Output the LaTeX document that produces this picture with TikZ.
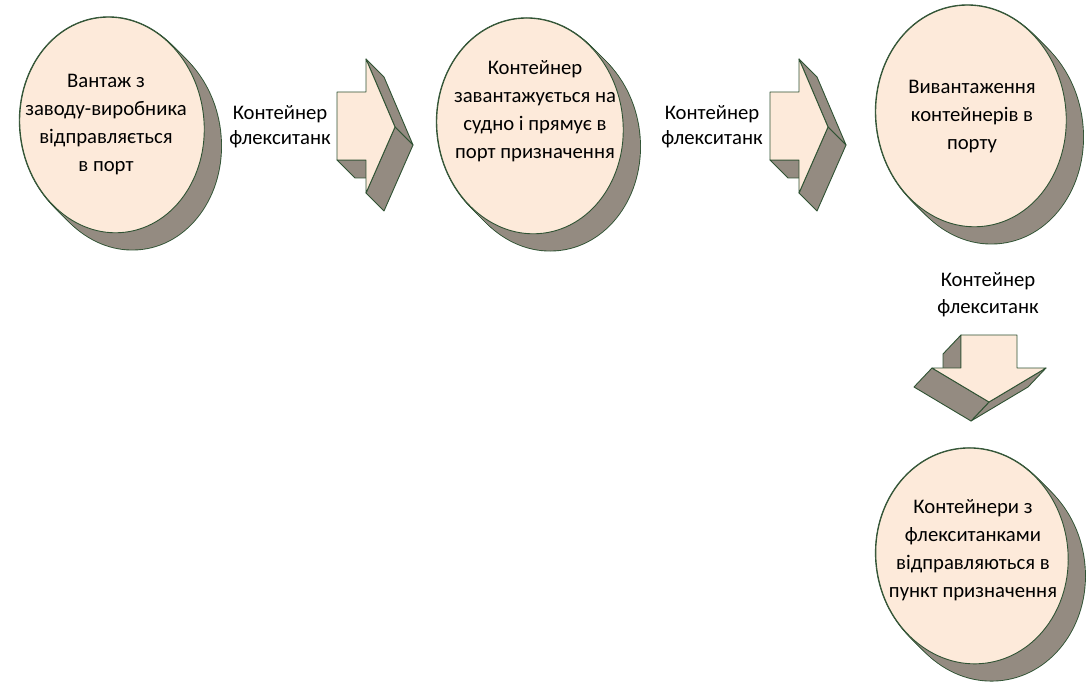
\documentclass[tikz,border=0pt]{standalone}
\usepackage{fontspec}
\setmainfont{Carlito}
\definecolor{discfill}{RGB}{253,234,218}
\definecolor{discshade}{RGB}{148,139,129}
\definecolor{rimgreen}{RGB}{47,82,51}

% disc with its extruded shadow: centre x, centre y, x radius, y radius
\newcommand{\stagedisc}[4]{%
  \foreach \k in {0,...,12}
    \draw[draw=rimgreen, line width=1.8pt, shift={(#1+1.4*\k,#2+1.4*\k)}, rotate=7] (0,0) ellipse (#3 and #4);
  \foreach \k in {0,...,12}
    \fill[discshade, shift={(#1+1.4*\k,#2+1.4*\k)}, rotate=7] (0,0) ellipse (#3 and #4);
  \draw[face, shift={(#1,#2)}, rotate=7] (0,0) ellipse (#3 and #4);
}

\begin{document}
\begin{tikzpicture}[x=1pt,y=-1pt,
    face/.style={fill=discfill, draw=rimgreen, line width=0.9pt, line join=round},
    side/.style={fill=discshade, draw=rimgreen, line width=0.9pt, line join=round},
    stagetext/.style={align=center, font=\fontsize{20.7}{28}\selectfont},
    boxtext/.style={align=center, font=\fontsize{20.7}{25}\selectfont}]
  \useasboundingbox (0,0) rectangle (1089,684);

  \def\rightfront{(0,0) -- (29,0) -- (29,-33) -- (58,35) -- (29,101) -- (29,68) -- (0,68) -- cycle}
  \def\downfront{(0,0) -- (56,0) -- (56,33) -- (85,33) -- (28,67) -- (-29,33) -- (0,33) -- cycle}
  \coordinate (a1) at (337,92);
  \coordinate (a2) at (770,92);
  \coordinate (a3) at (961,335);

  % discs
  \stagedisc{112}{125}{92}{108}
  \stagedisc{530}{126}{93}{108}
  \stagedisc{971}{116}{95}{111}
  \stagedisc{972}{556}{96}{108}

  % right arrows
  \foreach \o in {a1,a2} {
    \begin{scope}[shift={(\o)}]
      \draw[side] (0,68) -- (29,68) -- (47,86) -- (18,86) -- cycle;
      \draw[side] (29,-33) -- (58,35) -- (76,53) -- (47,-15) -- cycle;
      \draw[side] (58,35) -- (29,101) -- (47,119) -- (76,53) -- cycle;
      \draw[face] \rightfront;
    \end{scope}
  }

  % down arrow
  \begin{scope}[shift={(a3)}]
    \draw[side] (0,0) -- (0,33) -- (-18,52) -- (-18,19) -- cycle;
    \draw[side] (85,33) -- (28,67) -- (10,86) -- (67,52) -- cycle;
    \draw[side] (28,67) -- (-29,33) -- (-47,52) -- (10,86) -- cycle;
    \draw[face] \downfront;
  \end{scope}

  % texts
  \node[stagetext] (s1) at (106,125) {Вантаж з\\заводу-виробника\\відправляється\\в порт};
  \node[stagetext] (s2) at (535,111) {Контейнер\\завантажується на\\судно і прямує в\\порт призначення};
  \node[stagetext] (s3) at (972,117) {Вивантаження\\контейнерів в\\порту};
  \node[stagetext] (s4) at (973,550) {Контейнери з\\флекситанками\\відправляються в\\пункт призначення};
  \node[boxtext] (l1) at (280,127) {Контейнер\\флекситанк};
  \node[boxtext] (l2) at (712,127) {Контейнер\\флекситанк};
  \node[boxtext, font=\fontsize{20.7}{27}\selectfont] (l3) at (988,295) {Контейнер\\флекситанк};
\end{tikzpicture}
\end{document}
